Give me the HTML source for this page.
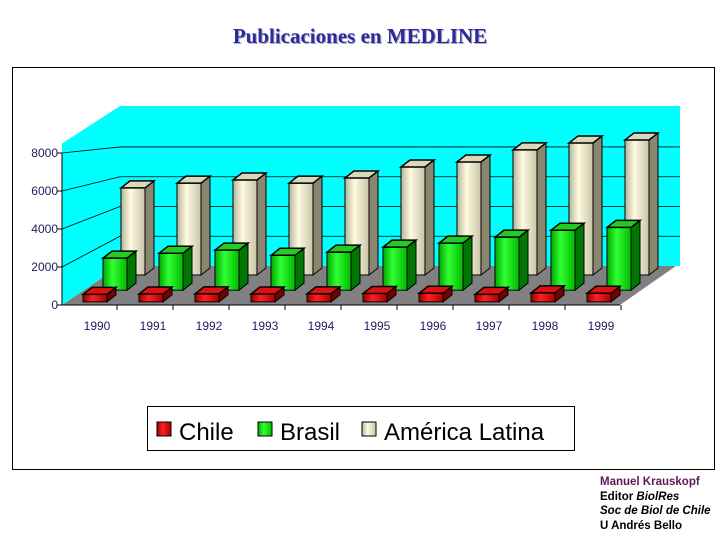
<!DOCTYPE html>
<html><head><meta charset="utf-8">
<style>
body{margin:0;width:720px;height:540px;background:#fff;overflow:hidden;position:relative;font-family:"Liberation Sans",sans-serif}
#title{position:absolute;left:0;width:720px;top:24px;text-align:center;font-family:"Liberation Serif",serif;font-weight:bold;font-size:21px;color:#2b2b9e;text-shadow:1px 1px 0 #aab}
#credits{position:absolute;left:600px;top:475px;font-size:11.5px;line-height:14.5px;font-weight:bold;color:#000}
</style></head><body>
<div id="title">Publicaciones en MEDLINE</div>
<svg id="chart" width="720" height="540" style="position:absolute;left:0;top:0">
<defs>
<linearGradient id="gR" x1="0" x2="1"><stop offset="0" stop-color="#900"/><stop offset=".4" stop-color="#f22"/><stop offset="1" stop-color="#a00"/></linearGradient>
<linearGradient id="gG" x1="0" x2="1"><stop offset="0" stop-color="#0a0"/><stop offset=".4" stop-color="#3f3"/><stop offset="1" stop-color="#0b0"/></linearGradient>
<linearGradient id="gA" x1="0" x2="1"><stop offset="0" stop-color="#b8b49a"/><stop offset=".4" stop-color="#fffbe0"/><stop offset="1" stop-color="#c8c4a8"/></linearGradient>
</defs>
<rect x="12.5" y="67.5" width="702" height="402" fill="none" stroke="#000"/>
<g id="plot"></g>
<g>
<rect x="147.5" y="406.5" width="427" height="44" fill="#fff" stroke="#000"/>
<rect x="157" y="422" width="14" height="14" fill="url(#gR)" stroke="#000"/>
<text x="179" y="440" font-size="24">Chile</text>
<rect x="258" y="422" width="14" height="14" fill="url(#gG)" stroke="#000"/>
<text x="280" y="440" font-size="24">Brasil</text>
<rect x="362" y="422" width="14" height="14" fill="url(#gA)" stroke="#000"/>
<text x="384" y="440" font-size="24">América Latina</text>
</g>
</svg>
<div id="credits"><span style="color:#5a1a5a">Manuel Krauskopf</span><br>Editor <i>BiolRes</i><br><i>Soc de Biol de Chile</i><br>U Andrés Bello</div>
<script>
const categories=["1990","1991","1992","1993","1994","1995","1996","1997","1998","1999"];
const chile=[400,420,430,420,430,450,460,400,480,460];
const brasil=[1840,2120,2300,2000,2180,2470,2700,3040,3440,3600];
const americaLatina=[5500,5800,6000,5800,6130,6820,7140,7900,8340,8530];
const yTicks=[0,2000,4000,6000,8000];

const NS="http://www.w3.org/2000/svg";
const plot=document.getElementById('plot');
function mk(tag,attrs,parent){const e=document.createElementNS(NS,tag);for(const k in attrs)e.setAttribute(k,attrs[k]);(parent||plot).appendChild(e);return e;}
const FX=62,BX=120,FY=305,BY=266,FS=0.019,BS=0.01488;
function yAt(v,t){return (FY+(BY-FY)*t)-v*(FS+(BS-FS)*t);}
let w=mk('polygon',{points:`${FX},${yAt(8500,0)} ${BX},106 ${BX},${BY} ${FX},${FY}`,fill:'#00ffff'});

w=mk('polygon',{points:`${BX},106 680,106 680,${BY} ${BX},${BY}`,fill:'#00ffff'});

w=mk('polygon',{points:`${FX},${FY} 620,${FY} 676,${BY} ${BX},${BY}`,fill:'#808080'});

yTicks.forEach(v=>{
  if(v>0){
    const g1=mk('line',{x1:FX,y1:yAt(v,0),x2:BX,y2:yAt(v,1),stroke:'#000','stroke-width':0.8});
    
    const g2=mk('line',{x1:BX,y1:yAt(v,1),x2:680,y2:yAt(v,1),stroke:'#000','stroke-width':0.8});
    
  }
  const tk=mk('line',{x1:FX-5,y1:yAt(v,0),x2:FX,y2:yAt(v,0),stroke:'#000'});
  
  const lb=mk('text',{x:FX-4,y:yAt(v,0)+4,'font-size':12,'text-anchor':'end',fill:'#202060'});
  lb.textContent=v;
  
});
let ax=mk('line',{x1:FX,y1:yAt(8000,0),x2:FX,y2:FY,stroke:'#000'});

ax=mk('line',{x1:FX,y1:FY,x2:620,y2:FY,stroke:'#000'});

const step=56;
categories.forEach((c,i)=>{
  const xt=mk('line',{x1:FX+step*(i+1)-1,y1:FY,x2:FX+step*(i+1)-1,y2:FY+5,stroke:'#000'});
  
  const lb=mk('text',{x:97+step*i,y:330,'font-size':12,'text-anchor':'middle',fill:'#202060'});
  lb.textContent=c;
  
});
const rows=[
 {data:americaLatina,t:0.77,x0:121,w:24,fill:'url(#gA)',side:'#8a8670',top:'#ddd8bb',name:'bar-america-latina'},
 {data:brasil,t:0.38,x0:103,w:24,fill:'url(#gG)',side:'#070',top:'#2c2',name:'bar-brasil'},
 {data:chile,t:0.08,x0:83,w:24,fill:'url(#gR)',side:'#700',top:'#d11',name:'bar-chile'}
];
const dx=9,dy=-7;
rows.forEach(r=>{
  r.data.forEach((v,i)=>{
    const x=r.x0+step*i, yb=yAt(0,r.t), yt=yAt(v,r.t);
    const g=mk('g',{});
    
    
    mk('polygon',{points:`${x+r.w},${yt} ${x+r.w+dx},${yt+dy} ${x+r.w+dx},${yb+dy} ${x+r.w},${yb}`,fill:r.side,stroke:'#000','stroke-width':1},g);
    mk('rect',{x:x,y:yt,width:r.w,height:yb-yt,fill:r.fill,stroke:'#000','stroke-width':1},g);
    mk('polygon',{points:`${x},${yt} ${x+dx},${yt+dy} ${x+r.w+dx},${yt+dy} ${x+r.w},${yt}`,fill:r.top,stroke:'#000','stroke-width':1.5},g);
  });
});
</script>
</body></html>
